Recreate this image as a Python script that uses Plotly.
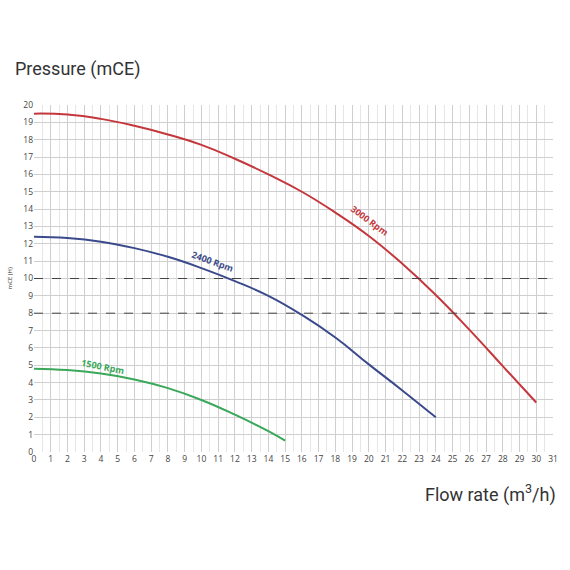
import plotly.graph_objects as go

# pump curves
flow_3000 = [0, 2, 4, 6, 8, 10, 12, 14, 16, 18, 20, 22, 24, 26, 28, 30]
head_3000 = [19.5, 19.45, 19.2, 18.8, 18.3, 17.7, 16.9, 16.0, 15.0, 13.8, 12.45, 10.85, 9.05, 7.05, 4.95, 2.85]

flow_2400 = [0, 2, 4, 6, 8, 10, 12, 14, 16, 18, 20, 22, 24]
head_2400 = [12.4, 12.33, 12.12, 11.75, 11.25, 10.6, 9.85, 9.0, 7.9, 6.6, 5.05, 3.55, 2.0]

flow_1500 = [0, 2, 4, 6, 8, 10, 12, 14, 15]
head_1500 = [4.8, 4.72, 4.52, 4.18, 3.68, 3.0, 2.15, 1.2, 0.65]

ref_levels = [10, 8]
x_ticks = list(range(0, 32))
y_ticks = list(range(0, 21))

RED = '#c4373c'
BLUE = '#3b4a8c'
GREEN = '#3aa75a'

fig = go.Figure()

for x, y, c in [(flow_3000, head_3000, RED),
                (flow_2400, head_2400, BLUE),
                (flow_1500, head_1500, GREEN)]:
    fig.add_trace(go.Scatter(
        x=x, y=y, mode='lines',
        line=dict(color=c, width=2, shape='spline', smoothing=1.3),
        showlegend=False, hoverinfo='skip'
    ))

# dashed reference lines
for lvl in ref_levels:
    fig.add_shape(type='line', xref='paper', x0=0, x1=1, yref='y', y0=lvl, y1=lvl,
                  line=dict(color='#444', width=1, dash='dash'))

# curve labels
for txt, x, y, ang, c in [('3000 Rpm', 20.05, 13.35, 36, RED),
                          ('2400 Rpm', 10.7, 11.0, 20, BLUE),
                          ('1500 Rpm', 4.1, 4.9, 11, GREEN)]:
    fig.add_annotation(x=x, y=y, text='<b>%s</b>' % txt, showarrow=False,
                       textangle=ang, font=dict(size=9, color=c, family='Open Sans'))

fig.add_annotation(xref='paper', yref='paper', x=-0.058, y=0.5, text='mCE (H)',
                   showarrow=False, textangle=-90, font=dict(size=6, color='#333'))

fig.add_annotation(xref='paper', yref='paper', x=-0.04, y=1.14, xanchor='left',
                   text='Pressure (mCE)', showarrow=False,
                   font=dict(size=18, color='#333', family='Roboto'))
fig.add_annotation(xref='paper', yref='paper', x=1.01, y=-0.078, xanchor='right', yanchor='top',
                   text='Flow rate (m<sup>3</sup>/h)', showarrow=False,
                   font=dict(size=18, color='#333', family='Roboto'))

fig.update_xaxes(range=[0, 31], tickvals=x_ticks, showgrid=True, gridcolor='#cfcfcf',
                 gridwidth=1, minor=dict(dtick=0.5, showgrid=True, gridcolor='#e6e6e6'),
                 tickfont=dict(size=8.5, color='#444'), zeroline=False, ticks='',
                 showline=False, automargin=False)
fig.update_yaxes(range=[0, 20], tickvals=y_ticks, showgrid=True, gridcolor='#cfcfcf',
                 gridwidth=1, tickfont=dict(size=8.5, color='#444'), zeroline=False,
                 ticks='', showline=False, automargin=False)

fig.update_layout(
    width=570, height=570,
    margin=dict(l=34, r=17, t=105, b=118),
    plot_bgcolor='white', paper_bgcolor='white',
    font=dict(family='Open Sans'),
)

# drop the browser's default page margin so the figure sits at 0,0
fig.write_html("out.html", config={'displayModeBar': False},
               post_script="document.body.style.margin='0';")
